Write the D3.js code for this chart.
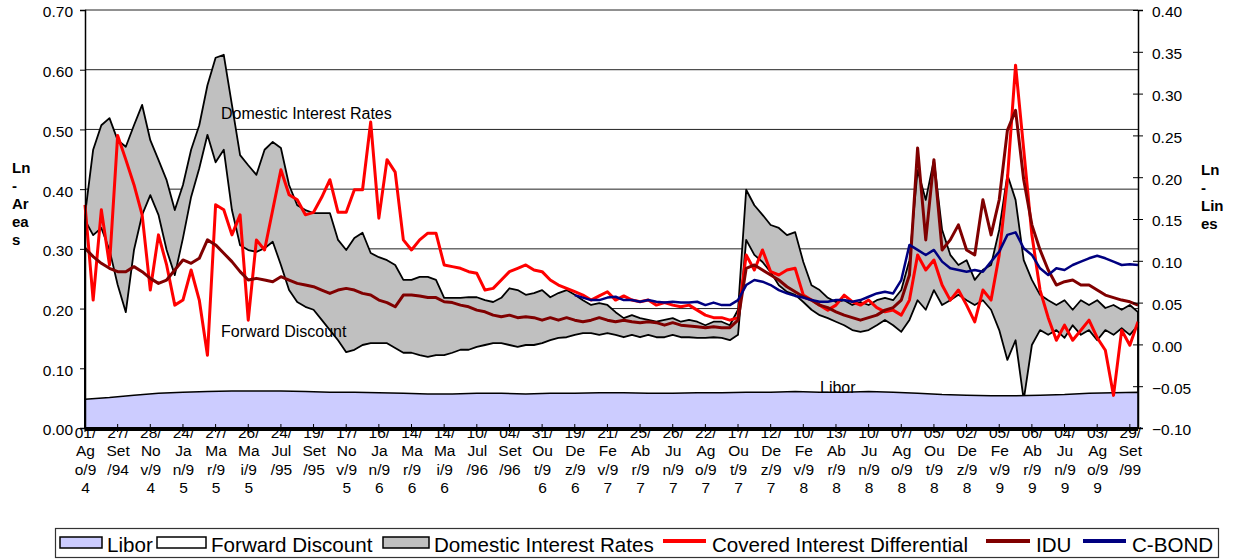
<!DOCTYPE html>
<html>
<head>
<meta charset="utf-8">
<script src="https://cdn.jsdelivr.net/npm/d3@7"></script>
<style>
  body { margin: 0; background: #fff; }
  svg text { font-family: "Liberation Sans", Arial, sans-serif; fill: #000; }
</style>
</head>
<body>
<script>
// canvas size
var w = 1241;
var h = 559;

// plot area
var plotLeft = 85, plotRight = 1138, plotTop = 10, plotBottom = 428;

// ---- data ----
// x axis category labels (one every ~40 trading days)
const tickLabels = ["01/Ago/94","27/Set/94","28/Nov/94","24/Jan/95","27/Mar/95","26/Mai/95",
  "24/Jul/95","19/Set/95","17/Nov/95","16/Jan/96","14/Mar/96","14/Mai/96","10/Jul/96",
  "04/Set/96","31/Out/96","19/Dez/96","21/Fev/97","25/Abr/97","26/Jun/97","22/Ago/97",
  "17/Out/97","12/Dez/97","10/Fev/98","13/Abr/98","10/Jun/98","07/Ago/98","05/Out/98",
  "02/Dez/98","05/Fev/99","06/Abr/99","04/Jun/99","03/Ago/99","29/Set/99"];
const lastPos = 32.25;      // data runs a little past the last label
const step = 0.25;          // label intervals between samples

// areas, left axis (Ln)
const domestic = [0.357,0.466,0.507,0.519,0.482,0.471,0.507,0.541,0.482,0.449,
  0.415,0.365,0.407,0.466,0.507,0.574,0.620,0.625,0.541,0.457,
  0.440,0.424,0.466,0.479,0.469,0.407,0.373,0.365,0.360,0.360,
  0.360,0.315,0.298,0.318,0.327,0.293,0.286,0.281,0.273,0.248,
  0.248,0.253,0.253,0.248,0.218,0.218,0.218,0.219,0.219,0.214,
  0.211,0.218,0.234,0.231,0.223,0.226,0.231,0.219,0.226,0.231,
  0.223,0.214,0.206,0.209,0.206,0.194,0.184,0.189,0.184,0.181,
  0.178,0.181,0.184,0.178,0.181,0.178,0.172,0.178,0.178,0.172,
  0.198,0.399,0.373,0.357,0.340,0.335,0.323,0.328,0.278,0.239,
  0.231,0.218,0.211,0.214,0.206,0.211,0.206,0.214,0.218,0.214,
  0.231,0.281,0.432,0.382,0.449,0.332,0.290,0.273,0.281,0.248,
  0.265,0.273,0.332,0.424,0.382,0.281,0.248,0.223,0.214,0.206,
  0.214,0.198,0.214,0.206,0.214,0.201,0.206,0.198,0.206,0.194];

const forwardDiscount = [0.348,0.323,0.335,0.298,0.240,0.194,0.298,0.357,0.390,0.357,
  0.298,0.256,0.318,0.387,0.435,0.491,0.445,0.466,0.365,0.306,
  0.298,0.295,0.301,0.312,0.273,0.231,0.211,0.203,0.198,0.181,
  0.164,0.147,0.127,0.131,0.139,0.142,0.142,0.142,0.134,0.126,
  0.126,0.122,0.119,0.122,0.122,0.126,0.131,0.131,0.136,0.139,
  0.142,0.142,0.139,0.136,0.139,0.139,0.142,0.147,0.151,0.152,
  0.156,0.159,0.159,0.156,0.159,0.156,0.152,0.156,0.152,0.156,
  0.152,0.152,0.156,0.152,0.152,0.151,0.151,0.152,0.151,0.147,
  0.156,0.315,0.290,0.278,0.261,0.239,0.228,0.223,0.211,0.198,
  0.189,0.184,0.178,0.172,0.164,0.161,0.164,0.172,0.181,0.172,
  0.161,0.181,0.214,0.198,0.231,0.206,0.214,0.223,0.214,0.206,
  0.214,0.198,0.164,0.114,0.147,0.047,0.139,0.164,0.156,0.164,
  0.151,0.172,0.156,0.164,0.147,0.164,0.156,0.167,0.156,0.172];

const liborStep = 0.75;
const libor = [0.048,0.051,0.055,0.058,0.060,0.061,0.062,0.062,0.062,0.061,
  0.060,0.060,0.059,0.058,0.057,0.057,0.058,0.058,0.057,0.058,
  0.058,0.059,0.059,0.058,0.058,0.059,0.059,0.060,0.060,0.061,
  0.060,0.060,0.061,0.060,0.058,0.056,0.055,0.054,0.054,0.055,
  0.056,0.058,0.059,0.060];

// lines, right axis (Ln)
const cid = [0.167,0.053,0.161,0.095,0.250,0.221,0.191,0.155,0.065,0.131,
  0.095,0.047,0.053,0.089,0.053,-0.013,0.167,0.161,0.131,0.155,
  0.029,0.125,0.113,0.161,0.209,0.179,0.173,0.155,0.158,0.176,
  0.197,0.158,0.158,0.185,0.185,0.266,0.151,0.221,0.206,0.125,
  0.113,0.125,0.133,0.133,0.095,0.093,0.091,0.087,0.085,0.065,
  0.067,0.077,0.087,0.091,0.095,0.089,0.087,0.077,0.071,0.067,
  0.063,0.059,0.053,0.058,0.063,0.053,0.058,0.053,0.051,0.053,
  0.047,0.050,0.047,0.045,0.047,0.041,0.035,0.032,0.032,0.029,
  0.032,0.107,0.089,0.113,0.087,0.083,0.089,0.091,0.059,0.053,
  0.047,0.041,0.047,0.059,0.051,0.047,0.053,0.044,0.039,0.041,
  0.035,0.053,0.107,0.089,0.101,0.071,0.053,0.065,0.047,0.027,
  0.065,0.053,0.107,0.197,0.334,0.233,0.131,0.065,0.032,0.005,
  0.023,0.005,0.017,0.029,0.008,-0.007,-0.061,0.017,-0.001,0.027];

const idu = [0.115,0.105,0.097,0.091,0.087,0.087,0.093,0.087,0.079,0.073,
  0.077,0.089,0.101,0.097,0.103,0.125,0.119,0.109,0.099,0.087,
  0.077,0.079,0.077,0.075,0.081,0.077,0.073,0.071,0.069,0.065,
  0.061,0.065,0.067,0.065,0.061,0.059,0.053,0.050,0.045,0.059,
  0.059,0.058,0.056,0.056,0.051,0.050,0.047,0.045,0.041,0.039,
  0.035,0.033,0.035,0.032,0.033,0.032,0.029,0.032,0.029,0.032,
  0.029,0.027,0.029,0.032,0.029,0.027,0.029,0.027,0.026,0.027,
  0.026,0.023,0.026,0.023,0.022,0.021,0.020,0.021,0.020,0.020,
  0.029,0.091,0.095,0.089,0.083,0.077,0.069,0.063,0.057,0.053,
  0.047,0.044,0.039,0.035,0.032,0.029,0.032,0.035,0.041,0.044,
  0.053,0.083,0.235,0.125,0.221,0.113,0.125,0.143,0.113,0.107,
  0.173,0.131,0.173,0.256,0.280,0.197,0.143,0.113,0.089,0.071,
  0.075,0.077,0.071,0.071,0.065,0.059,0.056,0.053,0.051,0.047];

const cbondStart = 60;   // sample index where C-BOND begins
const cbond = [0.059,0.056,0.053,0.053,0.056,0.057,0.053,0.053,0.051,0.053,
  0.051,0.050,0.051,0.050,0.050,0.051,0.047,0.050,0.047,0.047,
  0.053,0.071,0.077,0.075,0.071,0.065,0.061,0.058,0.056,0.053,
  0.051,0.051,0.053,0.053,0.051,0.053,0.057,0.061,0.063,0.061,
  0.077,0.119,0.113,0.107,0.113,0.099,0.091,0.089,0.087,0.089,
  0.087,0.099,0.111,0.131,0.134,0.115,0.107,0.091,0.083,0.091,
  0.089,0.095,0.099,0.103,0.106,0.103,0.099,0.095,0.096,0.095];

// ---- scales ----
const xScale = d3.scaleLinear().domain([0, lastPos]).range([plotLeft, plotRight]);
const yLeft = d3.scaleLinear().domain([0, 0.7]).range([plotBottom, plotTop]);
const yRight = d3.scaleLinear().domain([-0.1, 0.4]).range([plotBottom, plotTop]);

const svg = d3.select("body")
  .append("svg")
    .attr("width", w)
    .attr("height", h);

// x axis labels first, the thick axis band is drawn over their top row
const measure = document.createElement("canvas").getContext("2d");
const tickFont = 15.5;
measure.font = tickFont + "px 'Liberation Sans', Arial";
function wrapChars(str, maxW) {
  const lines = [];
  let cur = "";
  for (const ch of str) {
    if (cur && measure.measureText(cur + ch).width > maxW) { lines.push(cur); cur = ch; }
    else cur += ch;
  }
  if (cur) lines.push(cur);
  return lines;
}

const xAxis = d3.axisBottom(xScale)
  .tickValues(d3.range(tickLabels.length))
  .tickFormat(i => tickLabels[i])
  .tickSize(0);

const gx = svg.append("g")
  .attr("transform", `translate(0, ${plotBottom})`)
  .call(xAxis);
gx.select(".domain").remove();
gx.selectAll("text").each(function(i) {
  const t = d3.select(this);
  const lines = wrapChars(tickLabels[i], tickFont * 1.53);
  t.text(null).attr("y", 0).attr("dy", null)
    .attr("font-size", tickFont).attr("font-family", null);
  lines.forEach((ln, k) => {
    t.append("tspan").attr("x", 0).attr("y", 10 + k * 18.3).text(ln);
  });
});

// gridlines
svg.append("g")
  .selectAll("line")
  .data(d3.range(0.1, 0.71, 0.1))
  .enter()
  .append("line")
    .attr("x1", plotLeft).attr("x2", plotRight)
    .attr("y1", d => yLeft(d)).attr("y2", d => yLeft(d))
    .attr("stroke", "#222")
    .attr("stroke-width", 1);

// areas
function areaFrom(values, st) {
  return d3.area()
    .x((d, i) => xScale(i * st))
    .y0(yLeft(0))
    .y1(d => yLeft(d))(values);
}

svg.append("path")
  .attr("d", areaFrom(domestic, step))
  .attr("fill", "#c0c0c0")
  .attr("stroke", "#000")
  .attr("stroke-width", 1.8)
  .attr("stroke-linejoin", "round");

svg.append("path")
  .attr("d", areaFrom(forwardDiscount, step))
  .attr("fill", "#fff")
  .attr("stroke", "#000")
  .attr("stroke-width", 1.8)
  .attr("stroke-linejoin", "round");

svg.append("path")
  .attr("d", areaFrom(libor, liborStep))
  .attr("fill", "#ccccff")
  .attr("stroke", "#000")
  .attr("stroke-width", 1.5);

// lines
function lineFrom(values, start) {
  return d3.line()
    .x((d, i) => xScale((i + start) * step))
    .y(d => yRight(d))(values);
}

svg.append("path")
  .attr("d", lineFrom(cid, 0))
  .attr("fill", "none")
  .attr("stroke", "#ff0000")
  .attr("stroke-width", 3)
  .attr("stroke-linejoin", "round");

svg.append("path")
  .attr("d", lineFrom(idu, 0))
  .attr("fill", "none")
  .attr("stroke", "#800000")
  .attr("stroke-width", 3)
  .attr("stroke-linejoin", "round");

svg.append("path")
  .attr("d", lineFrom(cbond, cbondStart))
  .attr("fill", "none")
  .attr("stroke", "#000080")
  .attr("stroke-width", 2.5)
  .attr("stroke-linejoin", "round");

// x axis band with tick marks
svg.append("line")
  .attr("x1", plotLeft).attr("x2", plotRight)
  .attr("y1", plotBottom + 1).attr("y2", plotBottom + 1)
  .attr("stroke", "#000").attr("stroke-width", 4);
svg.append("g")
  .selectAll("line")
  .data(d3.range(tickLabels.length))
  .enter()
  .append("line")
    .attr("x1", d => xScale(d)).attr("x2", d => xScale(d))
    .attr("y1", plotBottom - 4).attr("y2", plotBottom + 4)
    .attr("stroke", "#000");

// left axis
const yAxisL = d3.axisLeft(yLeft)
  .tickValues(d3.range(0, 0.71, 0.1))
  .tickFormat(d3.format(".2f"))
  .tickSize(5)
  .tickPadding(7);
const gl = svg.append("g")
  .attr("transform", `translate(${plotLeft}, 0)`)
  .call(yAxisL);
gl.select(".domain").attr("stroke-width", 1.5);
gl.selectAll("text").attr("font-size", tickFont).attr("font-family", null).attr("dy", "0.45em");

// right axis
const yAxisR = d3.axisRight(yRight)
  .tickValues(d3.range(-0.1, 0.401, 0.05))
  .tickFormat(d3.format(".2f"))
  .tickSize(5)
  .tickPadding(9);
const gr = svg.append("g")
  .attr("transform", `translate(${plotRight}, 0)`)
  .call(yAxisR);
gr.select(".domain").attr("stroke-width", 1.5);
gr.selectAll(".tick line").attr("x1", -5);
gr.selectAll("text").attr("font-size", tickFont).attr("font-family", null).attr("dy", "0.45em");

// axis titles
const titleL = ["Ln", "-", "Ar", "ea", "s"];
const titleR = ["Ln", "-", "Lin", "es"];
svg.append("text")
  .attr("font-size", 15).attr("font-weight", "bold")
  .selectAll("tspan").data(titleL).enter().append("tspan")
    .attr("x", 12).attr("y", (d, i) => 173 + i * 18).text(d => d);
svg.append("text")
  .attr("font-size", 15).attr("font-weight", "bold")
  .selectAll("tspan").data(titleR).enter().append("tspan")
    .attr("x", 1201).attr("y", (d, i) => 175 + i * 18).text(d => d);

// in-plot annotations
svg.append("text").attr("x", 221).attr("y", 119).attr("font-size", 16).text("Domestic Interest Rates");
svg.append("text").attr("x", 221).attr("y", 337).attr("font-size", 16).text("Forward Discount");
svg.append("text").attr("x", 820).attr("y", 393).attr("font-size", 16).text("Libor");

// legend
const legendItems = [
  { name: "Libor", kind: "area", color: "#ccccff", sx: 60, tx: 107 },
  { name: "Forward Discount", kind: "area", color: "#ffffff", sx: 157, tx: 211 },
  { name: "Domestic Interest Rates", kind: "area", color: "#c0c0c0", sx: 383, tx: 434 },
  { name: "Covered Interest Differential", kind: "line", color: "#ff0000", sx: 663, tx: 712 },
  { name: "IDU", kind: "line", color: "#800000", sx: 986, tx: 1036 },
  { name: "C-BOND", kind: "line", color: "#000080", sx: 1083, tx: 1132 }
];
const leg = svg.append("g");
leg.append("rect")
  .attr("x", 55.5).attr("y", 528.5).attr("width", 1163).attr("height", 29)
  .attr("fill", "#fff").attr("stroke", "#333").attr("stroke-width", 1.2);
legendItems.forEach(it => {
  if (it.kind === "area") {
    leg.append("rect")
      .attr("x", it.sx).attr("y", 537).attr("width", it.tx - it.sx - 5).attr("height", 11)
      .attr("fill", it.color).attr("stroke", "#000").attr("stroke-width", 1.5);
  } else {
    leg.append("line")
      .attr("x1", it.sx).attr("x2", it.tx - 6).attr("y1", 541).attr("y2", 541)
      .attr("stroke", it.color).attr("stroke-width", 4);
  }
  leg.append("text").attr("x", it.tx).attr("y", 552).attr("font-size", 20.6).text(it.name);
});
</script>
</body>
</html>
